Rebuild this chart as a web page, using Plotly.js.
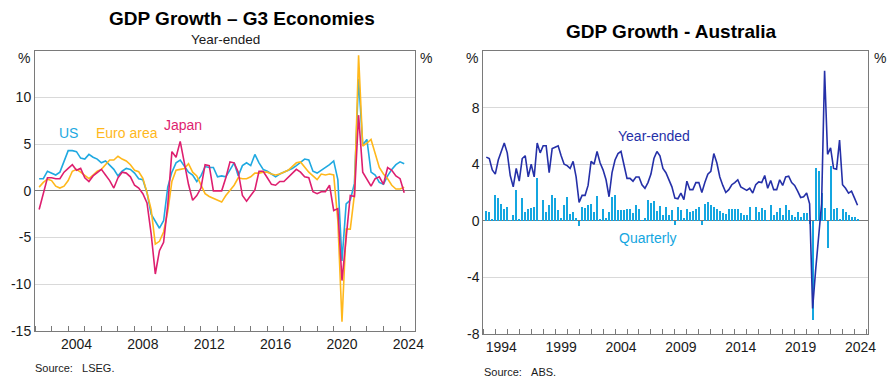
<!DOCTYPE html>
<html><head><meta charset="utf-8">
<script src="https://cdn.plot.ly/plotly-3.0.1.min.js"></script>
<style>html,body{margin:0;padding:0;background:#fff}#chart{width:894px;height:384px}</style>
</head><body><div id="chart"></div>
<script>
// ---------- G3 economies: year-ended GDP growth, quarterly from 2002 Q1 ----------
const g3FirstQuarter = [2002, 1];
const usGrowth = [1.3, 1.3, 2.1, 1.9, 1.7, 2.0, 3.2, 4.3, 4.3, 4.2,
  3.5, 3.4, 3.9, 3.6, 3.4, 3.0, 3.2, 2.7, 2.3, 1.6,
  2.1, 2.4, 2.3, 1.9, 1.3, 1.2, -0.2, -2.5, -3.2, -4.0,
  -3.2, 0.4, 2.0, 3.0, 3.3, 2.7, 2.0, 1.7, 1.0, 1.6,
  2.6, 2.5, 2.5, 1.5, 1.6, 1.5, 2.3, 3.0, 1.6, 2.7,
  3.0, 2.7, 3.9, 3.0, 2.3, 2.1, 1.8, 1.5, 1.8, 2.0,
  2.2, 2.4, 2.7, 3.1, 3.4, 3.3, 2.1, 1.9, 2.2, 2.5,
  2.8, 3.2, 1.2, -7.5, -1.4, -1.0, 0.8, 12.0, 4.9, 5.5,
  2.0, 1.7, 0.9, 0.7, 1.6, 2.3, 2.8, 3.1, 2.9];
const euroGrowth = [0.4, 0.9, 1.25, 1.1, 0.5, 0.3, 0.5, 1.1, 2.1, 2.3,
  2.0, 1.6, 1.3, 1.7, 2.1, 2.3, 2.8, 3.3, 3.3, 3.7,
  3.4, 3.2, 2.8, 2.2, 2.05, 1.35, -0.2, -2.0, -5.7, -5.4,
  -4.4, -2.2, 1.0, 2.2, 2.3, 2.4, 2.9, 2.0, 1.6, 0.6,
  -0.3, -0.6, -0.8, -1.0, -1.2, -0.5, 0.0, 0.6, 1.4, 1.3,
  1.3, 1.5, 1.9, 1.9, 2.0, 2.0, 1.8, 1.7, 1.8, 2.0,
  2.2, 2.6, 3.0, 3.1, 2.5, 2.0, 1.6, 1.2, 1.8, 1.7,
  1.8, 1.7, -3.2, -14.0, -4.1, -4.1, -0.4, 14.5, 4.8, 5.1,
  5.5, 4.1, 2.5, 1.8, 1.3, 0.6, 0.2, 0.2, 0.4];
const japanGrowth = [-2.0, -0.4, 1.4, 1.4, 1.3, 1.3, 2.0, 2.4, 2.8, 2.2,
  2.4, 1.4, 1.0, 1.6, 2.0, 2.3, 1.7, 1.1, 0.3, 1.4,
  2.0, 1.9, 1.5, 0.6, 0.3, -0.3, -1.3, -4.6, -8.9, -6.4,
  -5.5, -1.5, 4.2, 3.6, 5.3, 3.0, 0.7, -1.0, -0.5, 0.3,
  2.8, 2.7, 0.0, 0.0, 0.0, 1.4, 3.1, 3.0, 2.0, -0.5,
  -1.1, -0.5, 0.1, 2.1, 2.1, 1.4, 0.7, 0.6, 1.0, 1.0,
  1.4, 1.9, 2.3, 2.0, 1.5, 1.4, -0.1, -0.3, -0.1, -0.1,
  0.6, -2.1, -1.9, -9.6, -5.3, -0.5, -0.6, 8.1, 2.0, 1.3,
  0.5, 1.3, 1.5, 0.7, 2.5, 2.2, 1.6, 1.3, -0.2];
const g3TickLabels = ['2004', '2008', '2012', '2016', '2020', '2024'];
const g3YTicks = [-15, -10, -5, 0, 5, 10];

// ---------- Australia: GDP growth, quarterly from 1993 Q1 ----------
const ausFirstQuarter = [1993, 1];
const ausYearEnded = [4.5, 4.4, 3.6, 3.3, 4.3, 4.9, 5.5, 4.8, 3.2, 2.4,
  3.7, 2.8, 4.4, 4.6, 3.1, 4.0, 3.1, 5.5, 4.8, 5.3,
  5.3, 3.4, 5.1, 5.2, 5.3, 4.6, 4.0, 3.9, 3.7, 4.2,
  3.1, 1.3, 1.8, 1.8, 2.5, 4.2, 4.0, 4.9, 4.1, 3.6,
  2.9, 1.7, 3.4, 4.3, 4.75, 4.9, 4.0, 3.0, 3.0, 2.8,
  3.1, 3.1, 2.55, 2.3, 2.7, 3.3, 4.4, 4.9, 4.6, 3.7,
  3.4, 2.9, 2.4, 1.6, 1.56, 1.96, 1.5, 2.8, 2.2, 2.2,
  2.7, 2.7, 2.0, 2.7, 3.3, 3.5, 4.75, 4.1, 3.1, 2.5,
  2.0, 2.2, 2.55, 2.7, 2.9, 2.4, 2.3, 2.15, 2.3, 1.96,
  2.55, 2.75, 2.7, 3.2, 2.3, 2.85, 2.2, 2.2, 2.9, 2.5,
  3.1, 3.15, 2.7, 2.5, 2.1, 1.65, 1.7, 1.96, 1.2, -6.2,
  -3.5, -0.9, 1.2, 10.6, 4.7, 5.15, 3.7, 3.65, 5.7, 2.55,
  2.3, 1.96, 2.1, 1.6, 1.1];
const ausQuarterly = [0.7, 0.65, 0.1, 1.8, 1.6, 1.2, 0.85, 1.0, 0.05, 0.4,
  2.2, 0.1, 1.6, 0.65, 0.8, 0.9, 1.0, 3.0, 0.07, 1.5,
  0.6, 1.1, 1.85, 1.6, 0.75, 0.2, 1.1, 1.7, 0.45, 0.65,
  0.2, -0.4, 1.0, 0.9, 1.1, 1.2, 0.65, 1.75, 0.1, 0.8,
  0.2, 0.65, 1.7, 1.8, 0.73, 0.73, 0.73, 0.83, 0.83, 0.55,
  1.1, 0.83, 0.07, 0.2, 1.5, 1.25, 1.4, 0.66, 1.06, 0.43,
  1.0, 0.43, 0.73, -0.3, 1.0, 0.78, 0.2, 0.83, 0.6, 0.66,
  0.83, 0.97, -0.3, 1.2, 1.35, 1.1, 1.0, 0.8, 0.7, 0.55,
  0.5, 0.83, 0.83, 0.83, 0.83, 0.54, 0.43, 0.43, 1.0, 0.05,
  1.0, 0.6, 0.9, 0.73, 0.05, 1.1, 0.43, 0.6, 0.9, 0.43,
  1.1, 0.73, 0.43, 0.26, 0.6, 0.26, 0.52, 0.52, -0.24, -7.0,
  3.7, 3.5, 2.0, 0.9, -1.9, 3.9, 0.8, 0.9, 0.1, 0.8,
  0.6, 0.4, 0.3, 0.3, 0.1];
const ausTickLabels = ['1994', '1999', '2004', '2009', '2014', '2019', '2024'];
const ausYTicks = [-8, -4, 0, 4, 8];

// ---------- helpers ----------
// quarter-end position on a decimal-year axis
function quarterPositions(first, n) {
  const xs = [];
  for (let i = 0; i < n; i++) xs.push(first[0] + (first[1] + i) / 4);
  return xs;
}
const midYear = labels => labels.map(l => Number(l) + 0.5);

const W = 894, H = 384;
const px = v => v / W, py = v => 1 - v / H;
const FONT = 'Arial, "Liberation Sans", Helvetica, sans-serif';
const TICK = 14;
const C = {us: '#1fa9e1', euro: '#ffb81c', japan: '#de1f6f', ausLine: '#2530a8', ausBar: '#14a6e0',
  frame: '#7a7a7a', grid: '#d9d9d9', text: '#1a1a1a'};

const g3X = quarterPositions(g3FirstQuarter, usGrowth.length);
const ausX = quarterPositions(ausFirstQuarter, ausYearEnded.length);

const traces = [
  {type: 'scatter', mode: 'lines', x: g3X, y: usGrowth, xaxis: 'x', yaxis: 'y', line: {color: C.us, width: 1.6}, hoverinfo: 'skip'},
  {type: 'scatter', mode: 'lines', x: g3X, y: euroGrowth, xaxis: 'x', yaxis: 'y', line: {color: C.euro, width: 1.6}, hoverinfo: 'skip'},
  {type: 'scatter', mode: 'lines', x: g3X, y: japanGrowth, xaxis: 'x', yaxis: 'y', line: {color: C.japan, width: 1.6}, hoverinfo: 'skip'},
  {type: 'bar', x: ausX, y: ausQuarterly, xaxis: 'x2', yaxis: 'y3', width: 0.17, marker: {color: C.ausBar, line: {width: 0}}, hoverinfo: 'skip'},
  {type: 'scatter', mode: 'lines', x: ausX, y: ausYearEnded, xaxis: 'x2', yaxis: 'y3', line: {color: C.ausLine, width: 1.6}, hoverinfo: 'skip'}
];

const xCommon = {
  tickmode: 'array', ticks: '', showgrid: false, zeroline: false,
  showline: true, mirror: true, linecolor: C.frame, linewidth: 1,
  tickfont: {size: TICK, color: C.text}, fixedrange: true
};
const yCommon = {
  tickmode: 'array', ticks: '', showgrid: true, gridcolor: C.grid, gridwidth: 1,
  zeroline: true, zerolinecolor: C.frame, zerolinewidth: 1,
  showline: true, mirror: true, linecolor: C.frame, linewidth: 1,
  tickfont: {size: TICK, color: C.text}, fixedrange: true
};
const yRight = {
  tickmode: 'array', ticks: '', showgrid: false, zeroline: false, showline: false,
  side: 'right', tickfont: {size: TICK, color: C.text}, fixedrange: true
};

function ann(text, x, y, opts) {
  return Object.assign({text, x, y, xref: 'paper', yref: 'paper', showarrow: false,
    xanchor: 'center', yanchor: 'middle', font: {size: TICK, color: C.text}}, opts || {});
}

const layout = {
  width: W, height: H, margin: {l: 0, r: 0, t: 0, b: 0},
  paper_bgcolor: '#ffffff', plot_bgcolor: '#ffffff', showlegend: false,
  font: {family: FONT, size: TICK, color: C.text},
  bargap: 0,
  xaxis: Object.assign({}, xCommon, {domain: [px(35), px(415)], range: [2002, 2024.9], anchor: 'y',
    tickvals: midYear(g3TickLabels), ticktext: g3TickLabels,
    minor: {tickmode: 'linear', tick0: 2002, dtick: 1, ticks: 'inside', ticklen: 5, tickwidth: 1, tickcolor: C.frame, showgrid: false}}),
  yaxis: Object.assign({}, yCommon, {domain: [py(331), py(50.7)], range: [-15, 15], anchor: 'x',
    tickvals: g3YTicks, ticktext: g3YTicks.map(String)}),
  yaxis2: Object.assign({}, yRight, {overlaying: 'y', anchor: 'x', range: [-15, 15],
    tickvals: g3YTicks, ticktext: g3YTicks.map(String)}),
  xaxis2: Object.assign({}, xCommon, {domain: [px(483.3), px(867.7)], range: [1993, 2025.1], anchor: 'y3',
    tickvals: midYear(ausTickLabels), ticktext: ausTickLabels,
    minor: {tickmode: 'linear', tick0: 1993, dtick: 1, ticks: 'inside', ticklen: 5, tickwidth: 1, tickcolor: C.frame, showgrid: false}}),
  yaxis3: Object.assign({}, yCommon, {domain: [py(334), py(51)], range: [-8, 12], anchor: 'x2',
    tickvals: ausYTicks, ticktext: ausYTicks.map(String)}),
  yaxis4: Object.assign({}, yRight, {overlaying: 'y3', anchor: 'x2', range: [-8, 12],
    tickvals: ausYTicks, ticktext: ausYTicks.map(String)}),
  annotations: [
    ann('<b>GDP Growth \u2013 G3 Economies</b>', px(241.7), py(18), {font: {size: 19, color: '#000'}}),
    ann('Year-ended', px(225), py(40), {font: {size: 13.5, color: C.text}}),
    ann('<b>GDP Growth - Australia</b>', px(671.7), py(31.7), {font: {size: 19, color: '#000'}}),
    ann('Source:\u00a0\u00a0\u00a0LSEG.', px(33), py(368.3), {xanchor: 'left', font: {size: 11, color: C.text}}),
    ann('Source:\u00a0\u00a0\u00a0ABS.', px(481.7), py(371.7), {xanchor: 'left', font: {size: 11, color: C.text}}),
    ann('%', px(32.3), py(57.7), {xanchor: 'right'}),
    ann('%', px(418.3), py(57.7), {xanchor: 'left'}),
    ann('%', px(480), py(58.3), {xanchor: 'right'}),
    ann('%', px(871.7), py(58.3), {xanchor: 'left'}),
    {text: 'US', x: 2004.04, y: 6.2, xref: 'x', yref: 'y', showarrow: false, font: {size: 14, color: C.us}},
    {text: 'Euro area', x: 2007.54, y: 6.2, xref: 'x', yref: 'y', showarrow: false, font: {size: 14, color: C.euro}},
    {text: 'Japan', x: 2010.9, y: 7.1, xref: 'x', yref: 'y', showarrow: false, font: {size: 14, color: C.japan}},
    {text: 'Year-ended', x: 2007.29, y: 5.98, xref: 'x2', yref: 'y3', showarrow: false, font: {size: 14, color: C.ausLine}},
    {text: 'Quarterly', x: 2006.77, y: -1.18, xref: 'x2', yref: 'y3', showarrow: false, font: {size: 14, color: C.ausBar}}
  ]
};

Plotly.newPlot('chart', traces, layout, {staticPlot: true, displayModeBar: false});
</script>
</body></html>
